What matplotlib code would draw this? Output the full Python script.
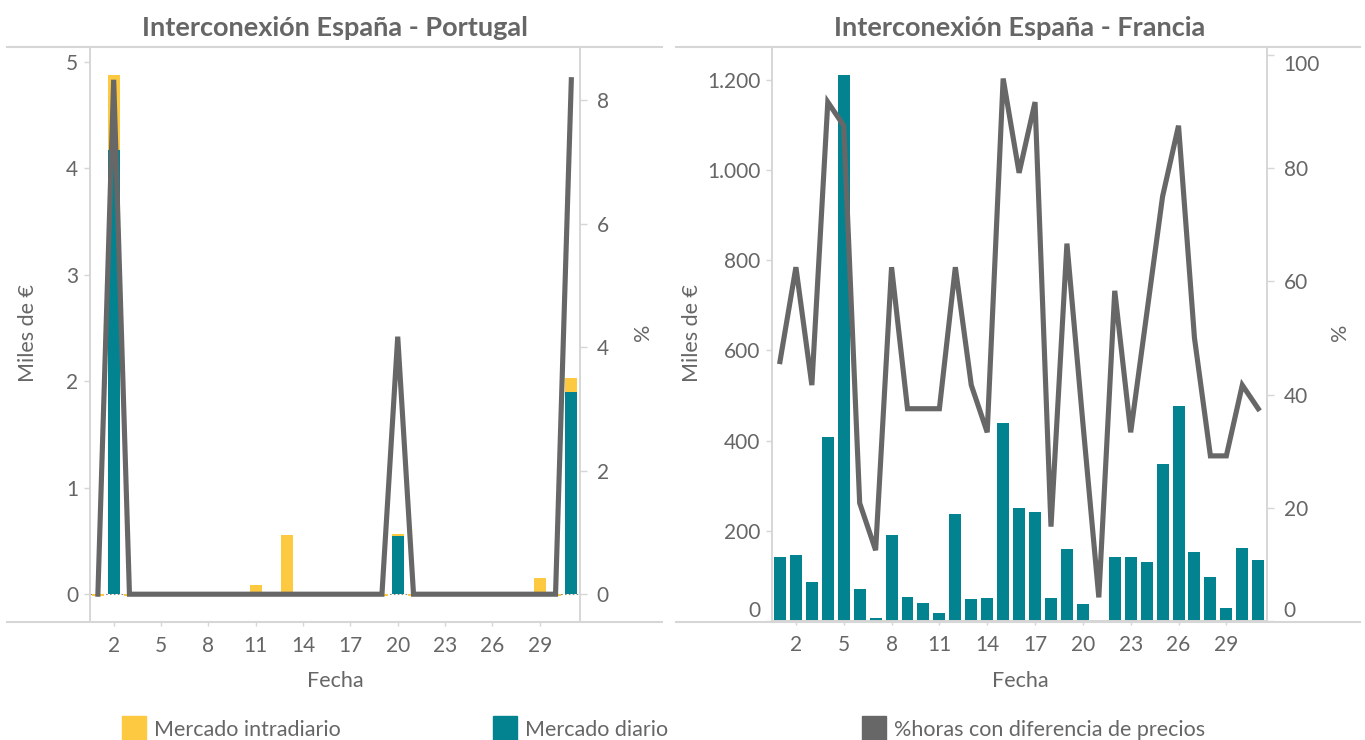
import matplotlib
matplotlib.use("Agg")
import matplotlib.pyplot as plt
from matplotlib.lines import Line2D
from matplotlib.patches import Rectangle
from matplotlib.ticker import FuncFormatter

# ---------------------------------------------------------------------------
# Data
# ---------------------------------------------------------------------------
DAYS = list(range(1, 32))

# Interconexión España - Portugal (miles de €, %)
PT_DIARIO = [0, 4.17, 0, 0, 0, 0, 0, 0, 0, 0,
             0, 0, 0, 0, 0, 0, 0, 0, 0, 0.55,
             0, 0, 0, 0, 0, 0, 0, 0, 0, 0, 1.90]
PT_INTRA = [-0.02, 0.71, -0.02, 0, 0, 0, 0, 0, 0, 0,
            0.085, 0, 0.56, 0, 0, 0, 0, 0, -0.02, 0.02,
            -0.02, 0, 0, 0, 0, 0, 0, 0, 0.15, -0.02, 0.13]
PT_PCT = [0, 8.33, 0, 0, 0, 0, 0, 0, 0, 0,
          0, 0, 0, 0, 0, 0, 0, 0, 0, 4.17,
          0, 0, 0, 0, 0, 0, 0, 0, 0, 0, 8.33]

# Interconexión España - Francia
FR_DIARIO = [141, 147, 86, 407, 1212, 72, 6, 190, 54, 40,
             17, 238, 48, 50, 440, 250, 241, 50, 159, 38,
             0, 143, 141, 130, 349, 477, 152, 97, 29, 163, 136]
FR_PCT = [45.83, 62.5, 41.67, 91.67, 87.5, 20.83, 12.5, 62.5, 37.5, 37.5,
          37.5, 62.5, 41.67, 33.33, 95.83, 79.17, 91.67, 16.67, 66.67, 35.0,
          4.17, 58.33, 33.33, 54.17, 75.0, 87.5, 50.0, 29.17, 29.17, 41.67, 37.5]

TITLES = ["Interconexión España - Portugal", "Interconexión España - Francia"]
LEGEND = ["Mercado intradiario", "Mercado diario", "%horas con diferencia de precios"]
XTICKS = [2, 5, 8, 11, 14, 17, 20, 23, 26, 29]

# ---------------------------------------------------------------------------
# Style
# ---------------------------------------------------------------------------
W, H = 1365, 740
YELLOW = "#FCC940"
TEAL = "#038390"
LINE = "#676767"
TXT = "#666666"
GRID = "#d6d6d6"

plt.rcParams["font.family"] = ["Lato", "DejaVu Sans"]

fig = plt.figure(figsize=(W / 100, H / 100), dpi=100)
fig.patch.set_facecolor("white")


def fx(px):
    return px / W


def fy(py):
    return 1 - py / H


def thousands(v, _):
    return f"{int(round(v)):,}".replace(",", ".")


def make_axes(x0, x1, y0, y1):
    ax = fig.add_axes([fx(x0), fy(y1), fx(x1 - x0), (y1 - y0) / H])
    ax2 = ax.twinx()
    for a in (ax, ax2):
        a.set_facecolor("none")
        for s in a.spines.values():
            s.set_color(GRID)
            s.set_linewidth(1.2)
        a.tick_params(colors=GRID, labelcolor=TXT, labelsize=15, width=1)
    ax.set_xlim(0.5, 31.55)
    ax.set_xticks(XTICKS)
    ax.tick_params(axis="x", length=3, pad=7)
    ax.tick_params(axis="y", length=4.5, pad=4)
    ax2.tick_params(axis="y", length=5, pad=7)
    return ax, ax2


def frame_lines(x0, x1, ys):
    for y in ys:
        fig.add_artist(Line2D([fx(x0), fx(x1)], [fy(y), fy(y)],
                              color=GRID, lw=1.5, zorder=0))


def keep_inside(ax):
    # edge labels are pushed inside the plot area, as in the original
    labels = ax.get_yticklabels()
    lo, hi = ax.get_ylim()
    ticks = ax.get_yticks()
    if ticks[0] <= lo + 1e-9:
        labels[0].set_va("bottom")
    if ticks[-1] > hi - (hi - lo) * 0.02:
        labels[-1].set_va("top")


# --- Portugal --------------------------------------------------------------
axL, axL2 = make_axes(90, 580, 47, 622)
axL.bar(DAYS, PT_DIARIO, width=0.75, color=TEAL, zorder=2)
axL.bar(DAYS, PT_INTRA, width=0.75,
        bottom=[d if i > 0 else 0 for d, i in zip(PT_DIARIO, PT_INTRA)],
        color=YELLOW, zorder=2)
axL.axhline(0, color="#8a8a8a", lw=0.8, ls=(0, (1.5, 2)), zorder=1)
axL.set_ylim(-0.26, 5.14)
axL.set_yticks([0, 1, 2, 3, 4, 5])
axL2.plot(DAYS, PT_PCT, color=LINE, lw=3.7, solid_joinstyle="miter", zorder=3)
axL2.set_ylim(-0.45, 8.86)
axL2.set_yticks([0, 2, 4, 6, 8])
frame_lines(7, 662, [47, 622])

# --- Francia ---------------------------------------------------------------
axR, axR2 = make_axes(772, 1267, 47, 621)
axR.bar(DAYS, FR_DIARIO, width=0.75, color=TEAL, zorder=2)
axR.axhline(0, color="#8a8a8a", lw=0.8, ls=(0, (1.5, 2)), zorder=1)
axR.set_ylim(0, 1273)
axR.set_yticks([0, 200, 400, 600, 800, 1000, 1200])
axR.yaxis.set_major_formatter(FuncFormatter(thousands))
axR2.plot(DAYS, FR_PCT, color=LINE, lw=3.7, solid_joinstyle="miter", zorder=3)
axR2.set_ylim(0, 101.4)
axR2.set_yticks([0, 20, 40, 60, 80, 100])
keep_inside(axR)
keep_inside(axR2)
frame_lines(676, 1360, [47, 622])

# ---------------------------------------------------------------------------
# Text
# ---------------------------------------------------------------------------
for cx, title in zip([335, 1020], TITLES):
    fig.text(fx(cx), fy(36), title, ha="center", va="baseline",
             fontsize=19.5, fontweight="bold", color=TXT)
    fig.text(fx(cx), fy(687), "Fecha", ha="center", va="baseline",
             fontsize=15.5, color=TXT)
for x in [28, 692]:
    fig.text(fx(x), fy(333), "Miles de €", ha="center", va="center",
             rotation=90, fontsize=15.5, color=TXT)
for x in [643, 1340]:
    fig.text(fx(x), fy(332), "%", ha="center", va="center",
             rotation=90, fontsize=15.5, color=TXT)

# legend
for x, label, col in zip([122, 493, 862], LEGEND, [YELLOW, TEAL, LINE]):
    fig.add_artist(Rectangle((fx(x), 0), fx(24), 24 / H, color=col,
                             transform=fig.transFigure))
    fig.text(fx(x + 32), fy(730), label, ha="left", va="center",
             fontsize=15.5, color=TXT)

fig.savefig("out.png", dpi=100, facecolor="white")
